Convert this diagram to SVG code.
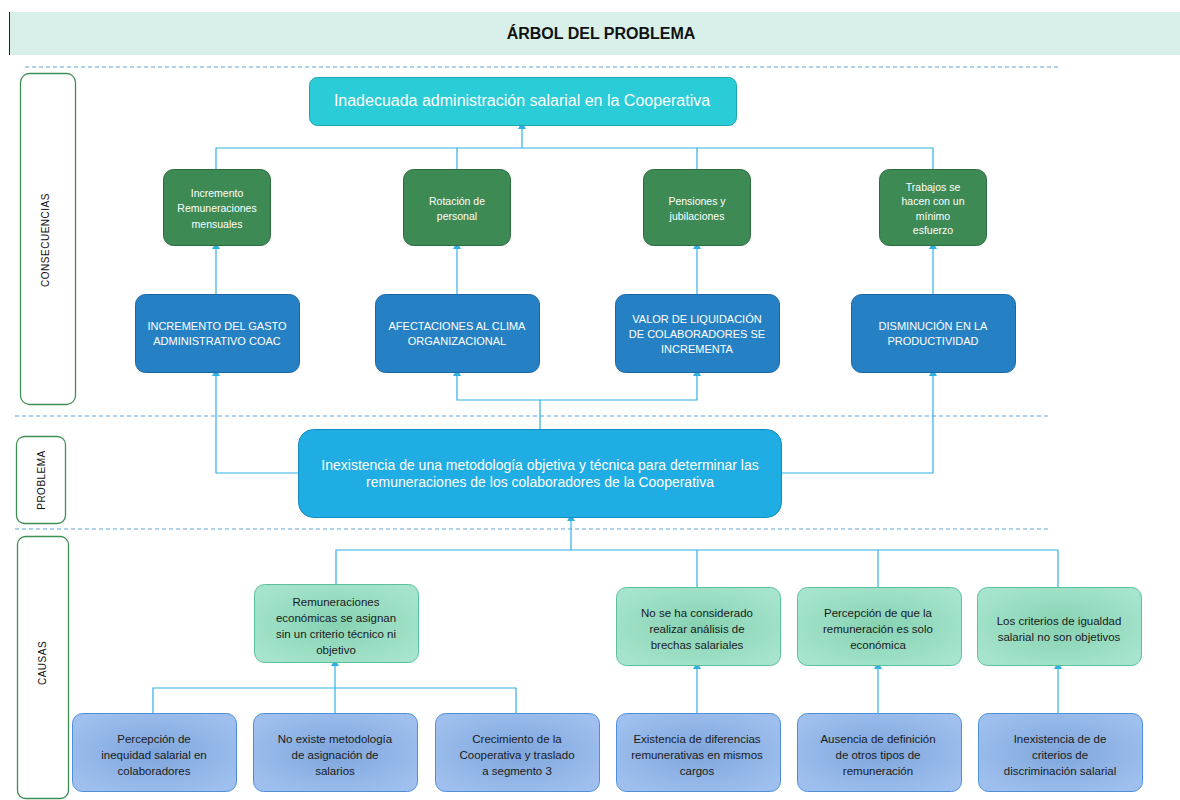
<svg xmlns="http://www.w3.org/2000/svg" width="1180" height="800" viewBox="0 0 1180 800">
<style>
text{font-family:"Liberation Sans",Arial,sans-serif;text-anchor:middle;}
.dash{stroke:#5aa8d8;stroke-width:1.2;stroke-dasharray:4 3;fill:none;}
.side{fill:#fff;stroke:#3f8f55;stroke-width:1.3;}
.sidet{font-size:10px;fill:#111;letter-spacing:0.5px;}
.con{stroke:#2fb0e5;stroke-width:1.2;fill:none;}
.g{fill:#3d8a55;stroke:#2c6b3e;stroke-width:1;}
.gt{font-size:10.5px;fill:#fff;}
.b{fill:#2681c4;stroke:#1b66a0;stroke-width:1;}
.bt{font-size:11px;fill:#fff;}
.c{fill:url(#gc);stroke:#58c29c;stroke-width:1;}
.s{fill:url(#gs);stroke:#4f8fd6;stroke-width:1;}
.ct{font-size:11.5px;fill:#1a1a1a;}
</style>
<defs>
<radialGradient id="gc" cx="0.5" cy="0.5" r="0.6">
<stop offset="0" stop-color="#86d2b2"/><stop offset="1" stop-color="#a6e4cd"/>
</radialGradient>
<radialGradient id="gs" cx="0.5" cy="0.5" r="0.6">
<stop offset="0" stop-color="#7ea5dc"/><stop offset="1" stop-color="#9fc0ee"/>
</radialGradient>
<marker id="ar" markerWidth="8" markerHeight="8" refX="4" refY="4" orient="auto" markerUnits="userSpaceOnUse">
<path d="M0,7 L4,0 L8,7 Z" fill="#2fb0e5" transform="rotate(90 4 4)"/>
</marker>
</defs>
<rect x="0" y="0" width="1180" height="800" fill="#fff"/>
<g id="title">
<rect x="9" y="12" width="1171" height="43" fill="#d8f0e9"/>
<line x1="9.5" y1="12" x2="9.5" y2="55" stroke="#222" stroke-width="1"/>
<text x="601" y="39" style="font-size:16px;font-weight:bold;fill:#111;">ÁRBOL DEL PROBLEMA</text>
</g>
<g id="separators">
<line class="dash" x1="25" y1="67" x2="1058" y2="67"/>
<line class="dash" x1="15" y1="416" x2="1050" y2="416"/>
<line class="dash" x1="15" y1="529" x2="1050" y2="529"/>
</g>
<g id="side-consecuencias">
<rect class="side" x="20.5" y="73.5" width="55" height="331" rx="9"/>
<text class="sidet" transform="translate(49 240) rotate(-90)">CONSECUENCIAS</text>
</g>
<g id="side-problema">
<rect class="side" x="16.5" y="436.5" width="49" height="87" rx="8"/>
<text class="sidet" transform="translate(45 480) rotate(-90)">PROBLEMA</text>
</g>
<g id="side-causas">
<rect class="side" x="17.5" y="536.5" width="51" height="262" rx="8"/>
<text class="sidet" transform="translate(46 663) rotate(-90)">CAUSAS</text>
</g>
<g id="connectors">
<path class="con" d="M216,169 V148 H933 V169"/>
<path class="con" d="M457,148 V169"/>
<path class="con" d="M697,148 V169"/>
<path class="con" d="M522,148 V126" marker-end="url(#ar)"/>
<path class="con" d="M216,294 V246" marker-end="url(#ar)"/>
<path class="con" d="M457,294 V246" marker-end="url(#ar)"/>
<path class="con" d="M697,294 V246" marker-end="url(#ar)"/>
<path class="con" d="M933,294 V246" marker-end="url(#ar)"/>
<path class="con" d="M298,473 H216 V373" marker-end="url(#ar)"/>
<path class="con" d="M781,473 H933 V373" marker-end="url(#ar)"/>
<path class="con" d="M540,429 V400 H457 V373" marker-end="url(#ar)"/>
<path class="con" d="M540,400 H697 V373" marker-end="url(#ar)"/>
<path class="con" d="M336,584 V550 H1058 V587"/>
<path class="con" d="M697,550 V587"/>
<path class="con" d="M878,550 V587"/>
<path class="con" d="M571,550 V518" marker-end="url(#ar)"/>
<path class="con" d="M153,713 V688 H516 V713"/>
<path class="con" d="M335,713 V663" marker-end="url(#ar)"/>
<path class="con" d="M697,713 V666" marker-end="url(#ar)"/>
<path class="con" d="M878,713 V666" marker-end="url(#ar)"/>
<path class="con" d="M1058,713 V666" marker-end="url(#ar)"/>
</g>
<g id="n-top">
<rect x="309.5" y="77.5" width="427" height="48" rx="8" fill="#29ccd7" stroke="#1ea5b3"/>
<text x="522" y="106" style="font-size:16px;fill:#fff;">Inadecuada administración salarial en la Cooperativa</text>
</g>
<g id="n-g1"><rect class="g" x="163.5" y="169.5" width="107" height="76" rx="10"/>
<text class="gt" x="217" y="197">Incremento</text><text class="gt" x="217" y="212">Remuneraciones</text><text class="gt" x="217" y="228">mensuales</text></g>
<g id="n-g2"><rect class="g" x="403.5" y="169.5" width="107" height="76" rx="10"/>
<text class="gt" x="457" y="205">Rotación de</text><text class="gt" x="457" y="220">personal</text></g>
<g id="n-g3"><rect class="g" x="643.5" y="169.5" width="107" height="76" rx="10"/>
<text class="gt" x="697" y="205">Pensiones  y</text><text class="gt" x="697" y="220">jubilaciones</text></g>
<g id="n-g4"><rect class="g" x="879.5" y="169.5" width="107" height="76" rx="10"/>
<text class="gt" x="933" y="191">Trabajos se</text><text class="gt" x="933" y="205">hacen con un</text><text class="gt" x="933" y="220">mínimo</text><text class="gt" x="933" y="234">esfuerzo</text></g>
<g id="n-b1"><rect class="b" x="135.5" y="294.5" width="164" height="78" rx="10"/>
<text class="bt" x="217" y="330">INCREMENTO DEL GASTO</text><text class="bt" x="217" y="345">ADMINISTRATIVO COAC</text></g>
<g id="n-b2"><rect class="b" x="375.5" y="294.5" width="164" height="78" rx="10"/>
<text class="bt" x="457" y="330">AFECTACIONES AL CLIMA</text><text class="bt" x="457" y="345">ORGANIZACIONAL</text></g>
<g id="n-b3"><rect class="b" x="615.5" y="294.5" width="164" height="78" rx="10"/>
<text class="bt" x="697" y="323">VALOR DE LIQUIDACIÓN</text><text class="bt" x="697" y="338">DE COLABORADORES SE</text><text class="bt" x="697" y="353">INCREMENTA</text></g>
<g id="n-b4"><rect class="b" x="851.5" y="294.5" width="164" height="78" rx="10"/>
<text class="bt" x="933" y="330">DISMINUCIÓN EN LA</text><text class="bt" x="933" y="345">PRODUCTIVIDAD</text></g>
<g id="n-problem">
<rect x="298.5" y="429.5" width="483" height="88" rx="15" fill="#1fade3" stroke="#168bbd"/>
<text x="540" y="470" style="font-size:14px;fill:#fff;">Inexistencia de una metodología objetiva y técnica para determinar las</text>
<text x="540" y="487" style="font-size:14px;fill:#fff;">remuneraciones de los colaboradores de la Cooperativa</text>
</g>
<g id="n-c1"><rect class="c" x="254.5" y="584.5" width="164" height="78" rx="10"/>
<text class="ct" x="336" y="606">Remuneraciones</text><text class="ct" x="336" y="622">económicas se asignan</text><text class="ct" x="336" y="638">sin un criterio técnico ni</text><text class="ct" x="336" y="654">objetivo</text></g>
<g id="n-c2"><rect class="c" x="616.5" y="587.5" width="164" height="78" rx="10"/>
<text class="ct" x="697" y="617">No se ha considerado</text><text class="ct" x="697" y="633">realizar análisis  de</text><text class="ct" x="697" y="649">brechas salariales</text></g>
<g id="n-c3"><rect class="c" x="797.5" y="587.5" width="164" height="78" rx="10"/>
<text class="ct" x="878" y="617">Percepción de que la</text><text class="ct" x="878" y="633">remuneración es solo</text><text class="ct" x="878" y="649">económica</text></g>
<g id="n-c4"><rect class="c" x="977.5" y="587.5" width="164" height="78" rx="10"/>
<text class="ct" x="1059" y="625">Los criterios de igualdad</text><text class="ct" x="1059" y="641">salarial  no son objetivos</text></g>
<g id="n-s1"><rect class="s" x="72.5" y="713.5" width="164" height="78" rx="10"/>
<text class="ct" x="154" y="743">Percepción de</text><text class="ct" x="154" y="759">inequidad salarial  en</text><text class="ct" x="154" y="775">colaboradores</text></g>
<g id="n-s2"><rect class="s" x="253.5" y="713.5" width="164" height="78" rx="10"/>
<text class="ct" x="335" y="743">No existe metodología</text><text class="ct" x="335" y="759">de asignación  de</text><text class="ct" x="335" y="775">salarios</text></g>
<g id="n-s3"><rect class="s" x="435.5" y="713.5" width="164" height="78" rx="10"/>
<text class="ct" x="517" y="743">Crecimiento de la</text><text class="ct" x="517" y="759">Cooperativa  y traslado</text><text class="ct" x="517" y="775">a segmento 3</text></g>
<g id="n-s4"><rect class="s" x="616.5" y="713.5" width="164" height="78" rx="10"/>
<text class="ct" x="697" y="743">Existencia  de diferencias</text><text class="ct" x="697" y="759">remunerativas  en mismos</text><text class="ct" x="697" y="775">cargos</text></g>
<g id="n-s5"><rect class="s" x="797.5" y="713.5" width="164" height="78" rx="10"/>
<text class="ct" x="878" y="743">Ausencia  de definición</text><text class="ct" x="878" y="759">de otros tipos de</text><text class="ct" x="878" y="775">remuneración</text></g>
<g id="n-s6"><rect class="s" x="978.5" y="713.5" width="164" height="78" rx="10"/>
<text class="ct" x="1060" y="743">Inexistencia de de</text><text class="ct" x="1060" y="759">criterios de</text><text class="ct" x="1060" y="775">discriminación  salarial</text></g>
</svg>
